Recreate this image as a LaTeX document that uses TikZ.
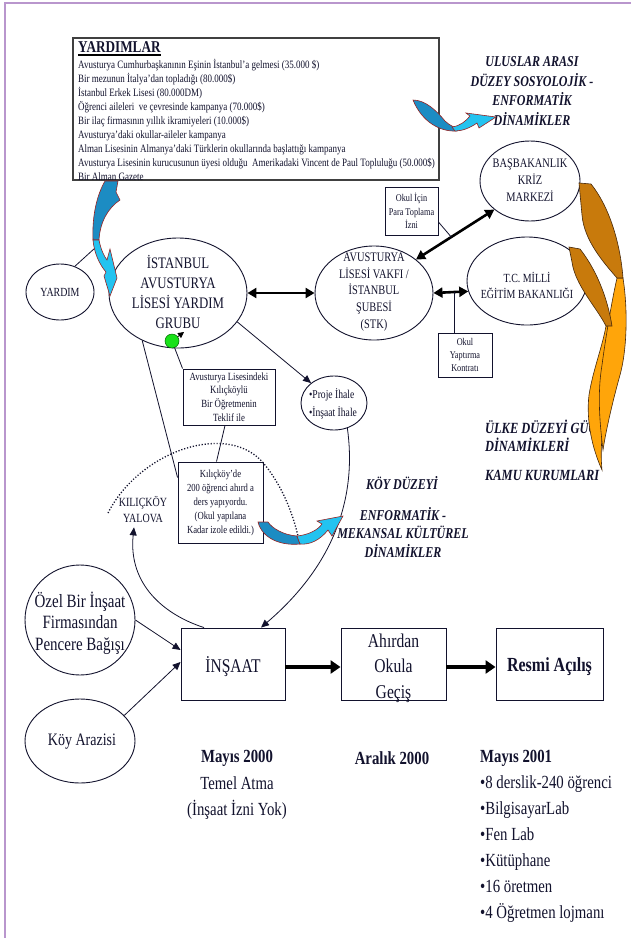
\documentclass[tikz,border=0pt]{standalone}
\usepackage{fontspec}
\setmainfont{Liberation Serif}[FakeStretch=0.8]
\usetikzlibrary{shapes.geometric,arrows.meta,calc}
\definecolor{ink}{RGB}{18,18,45}
\definecolor{framec}{RGB}{185,150,205}
\definecolor{bluedark}{RGB}{28,140,195}
\definecolor{bluelight}{RGB}{35,195,240}
\definecolor{blueline}{RGB}{150,35,35}
\definecolor{orangedark}{RGB}{200,122,12}
\definecolor{orangelight}{RGB}{255,165,10}
\definecolor{orangeline}{RGB}{70,40,10}
\definecolor{greendot}{RGB}{25,225,25}
\newcommand\fsz[2]{\fontsize{#1}{#2}\selectfont}
\tikzset{
  ell/.style={draw=ink, ellipse, line width=0.9pt, inner sep=0pt},
  box/.style={draw=ink, rectangle, line width=0.9pt, inner sep=0pt, align=center, text=ink},
  txt/.style={inner sep=0pt, align=center, text=ink},
  thinl/.style={draw=ink, line width=0.8pt},
  tarrow/.style={thinl, -{Triangle[length=8pt,width=7pt]}},
  dblarrow/.style={draw=black, line width=2.6pt, {Triangle[length=9pt,width=10pt]}-{Triangle[length=9pt,width=10pt]}},
  fatarrow/.style={draw=black, line width=4pt, -{Triangle[length=10pt,width=13pt]}},
  blueA/.style={fill=bluedark, draw=blueline, line width=0.6pt},
  blueB/.style={fill=bluelight, draw=blueline, line width=0.6pt},
  flameA/.style={fill=orangedark, draw=orangeline, line width=0.6pt},
  flameB/.style={fill=orangelight, draw=orangeline, line width=0.6pt},
  ttl/.style={txt, font=\fsz{15}{19.5}\bfseries\itshape},
}
\begin{document}
\begin{tikzpicture}[x=1pt,y=-1pt]
\useasboundingbox (0,0) rectangle (631,938);
\fill[white] (0,0) rectangle (631,938);
\draw[framec, line width=1.5pt] (5,938) -- (5,3) -- (631,3);

% ---------- YARDIMLAR box ----------
\node[draw=black!75, line width=1.4pt, minimum width=366pt, minimum height=142pt, inner sep=0pt] (yb) at (256,109) {};
\node[txt, anchor=base west, font=\fsz{16.5}{18}\bfseries] (ybt) at (78,52) {YARDIMLAR};
\draw[line width=1.6pt] ([yshift=-3pt]ybt.base west) -- ([yshift=-3pt]ybt.base east);
\begin{scope}[every node/.style={txt, anchor=base west, font=\fsz{11.25}{14}}]
\node (y1) at (78,68) {Avusturya Cumhurbaşkanının Eşinin İstanbul’a gelmesi (35.000 \$)};
\node (y2) at (78,82) {Bir mezunun İtalya’dan topladığı (80.000\$)};
\node (y3) at (78,96) {İstanbul Erkek Lisesi (80.000DM)};
\node (y4) at (78,110) {Öğrenci aileleri \ ve çevresinde kampanya (70.000\$)};
\node (y5) at (78,124) {Bir ilaç firmasının yıllık ikramiyeleri (10.000\$)};
\node (y6) at (78,138) {Avusturya’daki okullar-aileler kampanya};
\node (y7) at (78,152.5) {Alman Lisesinin Almanya’daki Türklerin okullarında başlattığı kampanya};
\node (y8) at (78,166.5) {Avusturya Lisesinin kurucusunun üyesi olduğu \ Amerikadaki Vincent de Paul Topluluğu (50.000\$)};
\node (y9) at (78,180.5) {Bir Alman Gazete};
\end{scope}

% ---------- titles ----------
\node[ttl] (ulus) at (532,91) {ULUSLAR ARASI\\DÜZEY SOSYOLOJİK -\\ENFORMATİK\\DİNAMİKLER};
\node[ttl] (koy1) at (402,483) {KÖY DÜZEYİ};
\node[ttl, font=\fsz{15}{18.5}\bfseries\itshape] (koy2) at (403,532) {ENFORMATİK -\\MEKANSAL KÜLTÜREL\\DİNAMİKLER};
\node[ttl, align=left, anchor=west, font=\fsz{15.5}{18}\bfseries\itshape] (ulke) at (485,436) {ÜLKE DÜZEYİ GÜÇ\\DİNAMİKLERİ};
\node[ttl, anchor=west, font=\fsz{15.5}{18}\bfseries\itshape] (kamu) at (485,475) {KAMU KURUMLARI};

% ---------- ellipses ----------
\node[ell, minimum width=68pt, minimum height=56pt] (yardim) at (60,292) {};
\node[txt, font=\fsz{12.4}{15}] (yardimt) at (60,292) {YARDIM};
\node[ell, minimum width=138pt, minimum height=110pt] (grup) at (178,293) {};
\node[txt, font=\fsz{16}{20}] (grupt) at (178,292) {İSTANBUL\\AVUSTURYA\\LİSESİ YARDIM\\GRUBU};
\node[ell, minimum width=118pt, minimum height=94pt] (stk) at (374,293) {};
\node[txt, font=\fsz{13}{16.75}] (stkt) at (374,292) {AVUSTURYA\\LİSESİ VAKFI /\\İSTANBUL\\ŞUBESİ\\(STK)};
\node[ell, minimum width=100pt, minimum height=80pt] (bbk) at (530,181) {};
\node[txt, font=\fsz{13}{17}] (bbkt) at (530,180) {BAŞBAKANLIK\\KRİZ\\MARKEZİ};
\node[ell, minimum width=120pt, minimum height=88pt] (meb) at (527,281) {};
\node[txt, font=\fsz{12.4}{16}] (mebt) at (527,285) {T.C. MİLLİ\\EĞİTİM BAKANLIĞI};
\node[ell, minimum width=66pt, minimum height=54pt] (proje) at (334,403) {};
\node[txt, align=left, font=\fsz{12}{18}] (projet) at (333,404) {•Proje İhale\\•İnşaat İhale};
\node[ell, minimum width=110pt, minimum height=110pt] (ozel) at (80,620) {};
\node[txt, font=\fsz{18.75}{21.5}] (ozelt) at (80,623) {Özel Bir İnşaat\\Firmasından\\Pencere Bağışı};
\node[ell, minimum width=110pt, minimum height=84pt] (koyar) at (80,741) {};
\node[txt, font=\fsz{17.5}{20}] (koyart) at (82,742) {Köy Arazisi};

% ---------- boxes ----------
\node[box, minimum width=53pt, minimum height=48pt, font=\fsz{10.3}{13.5}] (para) at (411.5,211) {Okul İçin\\Para Toplama\\İzni};
\node[box, minimum width=54pt, minimum height=44pt, font=\fsz{10.3}{13}] (kontrat) at (465,355) {Okul\\Yaptırma\\Kontratı};
\node[box, minimum width=92pt, minimum height=56pt, font=\fsz{11}{13.7}] (ogretmen) at (229,397) {Avusturya Lisesindeki\\Kılıçköylü\\Bir Öğretmenin\\Teklif ile};
\node[box, minimum width=85pt, minimum height=81pt, font=\fsz{10.8}{14}] (kilic) at (220.5,502.5) {Kılıçköy’de\\200 öğrenci ahırd a\\ders yapıyordu.\\(Okul yapılana\\Kadar izole edildi.)};
\node[box, minimum width=104pt, minimum height=72pt] (insaat) at (233,664) {};
\node[txt, font=\fsz{19.4}{22}] (insaatt) at (233,667) {İNŞAAT};
\node[box, minimum width=105pt, minimum height=72pt] (ahir) at (393.5,664) {};
\node[txt, font=\fsz{19.5}{25.5}] (ahirt) at (393.5,668) {Ahırdan\\Okula\\Geçiş};
\node[box, minimum width=107pt, minimum height=72pt] (resmi) at (549.5,664) {};
\node[txt, font=\fsz{20}{22}\bfseries] (resmit) at (549.5,667) {Resmi Açılış};

\node[txt, font=\fsz{12.5}{16}] (kyt) at (143,510) {KILIÇKÖY\\YALOVA};

% ---------- bottom texts ----------
\node[txt, font=\fsz{18.5}{26.5}] (m2000) at (237,785) {\textbf{Mayıs 2000}\\Temel Atma\\(İnşaat İzni Yok)};
\node[txt, font=\fsz{18.5}{26}\bfseries] (a2000) at (392,758) {Aralık 2000};
\node[txt, align=left, anchor=west, font=\fsz{18.5}{26}] (m2001) at (480,836) {\textbf{Mayıs 2001}\\•8 derslik-240 öğrenci\\•BilgisayarLab\\•Fen Lab\\•Kütüphane\\•16 öretmen\\•4 Öğretmen lojmanı};

% ---------- connectors ----------
\draw[dblarrow] (grup.east) -- (stk.west);
\draw[dblarrow] (stk.east) -- (meb.190);
\draw[dblarrow] (stk.north east) -- (bbk.south west);
\coordinate (pa) at ($(stk.north east)!0.45!(bbk.south west)$);
\draw[thinl] ([yshift=-11pt]para.east) -- (pa);
\coordinate (kx) at (454,292);
\draw[thinl] (kx) -- (kx |- kontrat.north);

\draw[tarrow] (grup.-26) -- (proje.139);
\draw[tarrow] (proje.-62) .. controls (356,490) and (340,560) .. ([xshift=28pt]insaat.north);
\draw[tarrow] ([xshift=-29pt]insaat.north) .. controls (165,615) and (128,585) .. ([xshift=-9pt,yshift=-4pt]kyt.south);
\draw[thinl] (grup.-127) -- ([yshift=25pt]kilic.west);
\draw[thinl] ([xshift=-4pt]ogretmen.south) -- ([xshift=-4pt]kilic.north);
\draw[tarrow] (ozel.east) -- ([yshift=14pt]insaat.west);
\draw[tarrow] (koyar.30) -- ([yshift=2pt]insaat.west);
\draw[fatarrow] ([yshift=-3pt]insaat.east) -- ([yshift=-3pt]ahir.west);
\draw[fatarrow] ([yshift=-3pt]ahir.east) -- ([yshift=-3pt]resmi.west);
\draw[thinl] (yardim.60) -- (95,248);

% green dot with small arrow
\draw[draw=black, line width=0.8pt, -{Triangle[length=6pt,width=6pt]}] (172,341) -- (184,332);
\node[circle, fill=greendot, draw=green!40!black, line width=0.5pt, minimum size=14pt, inner sep=0pt] (gdot) at (172,341) {};
\draw[thinl] (gdot) -- (ogretmen.north west);

% dotted village border
\draw[line width=1.3pt, dash pattern=on 1.2pt off 1.8pt, draw=ink] (108,513) .. controls (140,450) and (230,420) .. (265,465) .. controls (285,490) and (295,520) .. (300,545);

% ---------- blue curved arrows ----------
\path[blueA] (413,100) .. controls (425,100) and (436,110) .. (445,121) .. controls (450,126) and (456,128) .. (460,129) -- (457,131) .. controls (440,132) and (422,122) .. (413,100) -- cycle;
\path[blueB] (452,127) .. controls (460,126) and (466,121) .. (470,116) -- (466,113) -- (496,117) -- (479,128) -- (477,123) .. controls (470,128) and (462,131) .. (455,131) -- cycle;
\path[blueA] (105,181) -- (118,181) -- (116,192) -- (120,200) .. controls (108,208) and (100,222) .. (99,240) -- (93,240) .. controls (92,215) and (97,195) .. (105,181) -- cycle;
\path[blueB] (93,240) -- (99,240) .. controls (101,250) and (104,256) .. (107,260) -- (110,249) -- (117,278) -- (110,296) -- (104,276) -- (106,272) .. controls (99,264) and (94,252) .. (93,240) -- cycle;
\path[blueA] (258,522) -- (268,522) .. controls (272,528) and (283,535) .. (297,536) -- (300,544) .. controls (280,546) and (262,538) .. (258,522) -- cycle;
\path[blueB] (297,536) .. controls (308,535) and (318,530) .. (322,524) -- (317,521) -- (343,516) -- (332,536) -- (328,530) .. controls (320,540) and (310,545) .. (300,544) -- cycle;

% ---------- orange flames ----------
\path[flameB] (606,326) -- (612,326) .. controls (617,355) and (615,385) .. (608,405) .. controls (602,425) and (600,450) .. (602,470) .. controls (592,448) and (586,420) .. (589,395) .. controls (593,370) and (602,348) .. (606,326) -- cycle;
\path[flameB] (617,278) -- (623,278) .. controls (628,310) and (627,350) .. (620,375) .. controls (613,400) and (606,430) .. (603,450) .. controls (600,425) and (597,395) .. (602,365) .. controls (606,335) and (612,300) .. (617,278) -- cycle;
\path[flameA] (579,183) -- (591,184) .. controls (608,205) and (620,240) .. (623,278) -- (617,278) .. controls (603,262) and (584,240) .. (582,215) -- cycle;
\path[flameA] (569,247) -- (580,249) .. controls (595,268) and (607,295) .. (612,326) -- (606,326) .. controls (597,308) and (575,285) .. (572,262) -- cycle;
\end{tikzpicture}
\end{document}
